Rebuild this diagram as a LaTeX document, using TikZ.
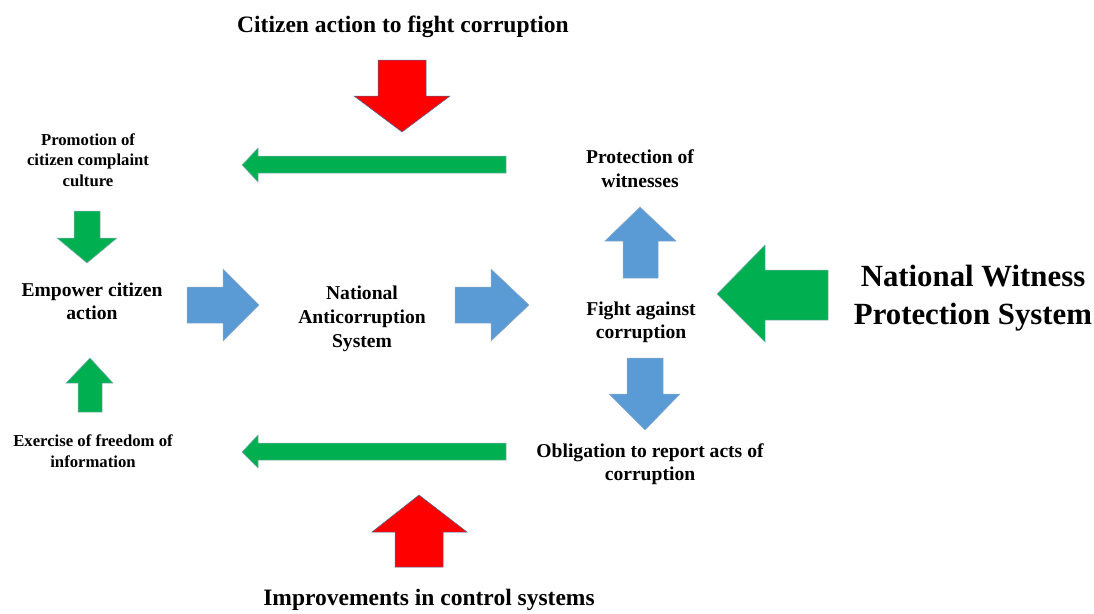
\documentclass[tikz,border=0pt]{standalone}
\usepackage{fontspec}
\setmainfont{Liberation Serif}
\definecolor{arred}{HTML}{FF0000}
\definecolor{arblue}{HTML}{5B9BD5}
\definecolor{argreen}{HTML}{00B050}
\definecolor{arline}{HTML}{41719C}
\begin{document}
\begin{tikzpicture}[x=1pt,y=-1pt,
	redarrow/.style={fill=arred,draw=arline,line width=0.5pt},
	bluearrow/.style={fill=arblue,draw=arline!60,line width=0.5pt},
	greenarrow/.style={fill=argreen,draw=arline!60,line width=0.5pt},
	lbl/.style={inner sep=0pt,align=center,font=\bfseries\fontsize{19.6}{23}\selectfont},
	smalllbl/.style={inner sep=0pt,align=center,font=\bfseries\fontsize{16.7}{20.7}\selectfont}]
	\useasboundingbox (0,0) rectangle (1094,613);
	% labels
	\node[lbl,font=\bfseries\fontsize{23.5}{28}\selectfont] (citizen) at (403,26.5) {Citizen action to fight corruption};
	\node[lbl,font=\bfseries\fontsize{23.5}{28}\selectfont] (improve) at (429,600) {Improvements in control systems};
	\node[smalllbl] (promo) at (88,160) {Promotion of\\citizen complaint\\culture};
	\node[lbl] (empower) at (92,301) {Empower citizen\\action};
	\node[smalllbl] (freedom) at (93,451) {Exercise of freedom of\\information};
	\node[lbl,font=\bfseries\fontsize{19.6}{24}\selectfont] (nas) at (362,319) {National\\Anticorruption\\System};
	\node[lbl,font=\bfseries\fontsize{19.6}{24}\selectfont] (protect) at (640,168.5) {Protection of\\witnesses};
	\node[lbl] (fight) at (641,322.5) {Fight against\\corruption};
	\node[lbl] (oblig) at (650,464.5) {Obligation to report acts of\\corruption};
	\node[lbl,font=\bfseries\fontsize{30.8}{38}\selectfont] (nwps) at (973,298) {National Witness\\Protection System};
	% red arrows
	\draw[redarrow] (378,60) -- (426,60) -- (426,96) -- (450,96) -- (402,132) -- (354,96) -- (378,96) -- cycle;
	\draw[redarrow] (395,567) -- (443,567) -- (443,532) -- (467,532) -- (419,495) -- (372,532) -- (395,532) -- cycle;
	% blue arrows
	\draw[bluearrow] (187,287) -- (223,287) -- (223,269) -- (259,305) -- (223,341) -- (223,323) -- (187,323) -- cycle;
	\draw[bluearrow] (455,287) -- (491,287) -- (491,269) -- (529,305) -- (491,341) -- (491,323) -- (455,323) -- cycle;
	\draw[bluearrow] (623,278) -- (623,241) -- (605,241) -- (640,207) -- (676,241) -- (658,241) -- (658,278) -- cycle;
	\draw[bluearrow] (627,358) -- (663,358) -- (663,394) -- (680,394) -- (645,430) -- (609,394) -- (627,394) -- cycle;
	% green arrows
	\draw[greenarrow] (828,270) -- (765,270) -- (765,245) -- (717,294) -- (765,342) -- (765,320) -- (828,320) -- cycle;
	\draw[greenarrow] (506,156) -- (258,156) -- (258,148) -- (242,165) -- (258,182) -- (258,173) -- (506,173) -- cycle;
	\draw[greenarrow] (506,443) -- (258,443) -- (258,435) -- (242,452) -- (258,468) -- (258,460) -- (506,460) -- cycle;
	\draw[greenarrow] (74,211) -- (100,211) -- (100,238) -- (117,238) -- (87,263) -- (57,238) -- (74,238) -- cycle;
	\draw[greenarrow] (78,412) -- (78,383) -- (66,383) -- (90,358) -- (113,383) -- (102,383) -- (102,412) -- cycle;
\end{tikzpicture}
\end{document}
